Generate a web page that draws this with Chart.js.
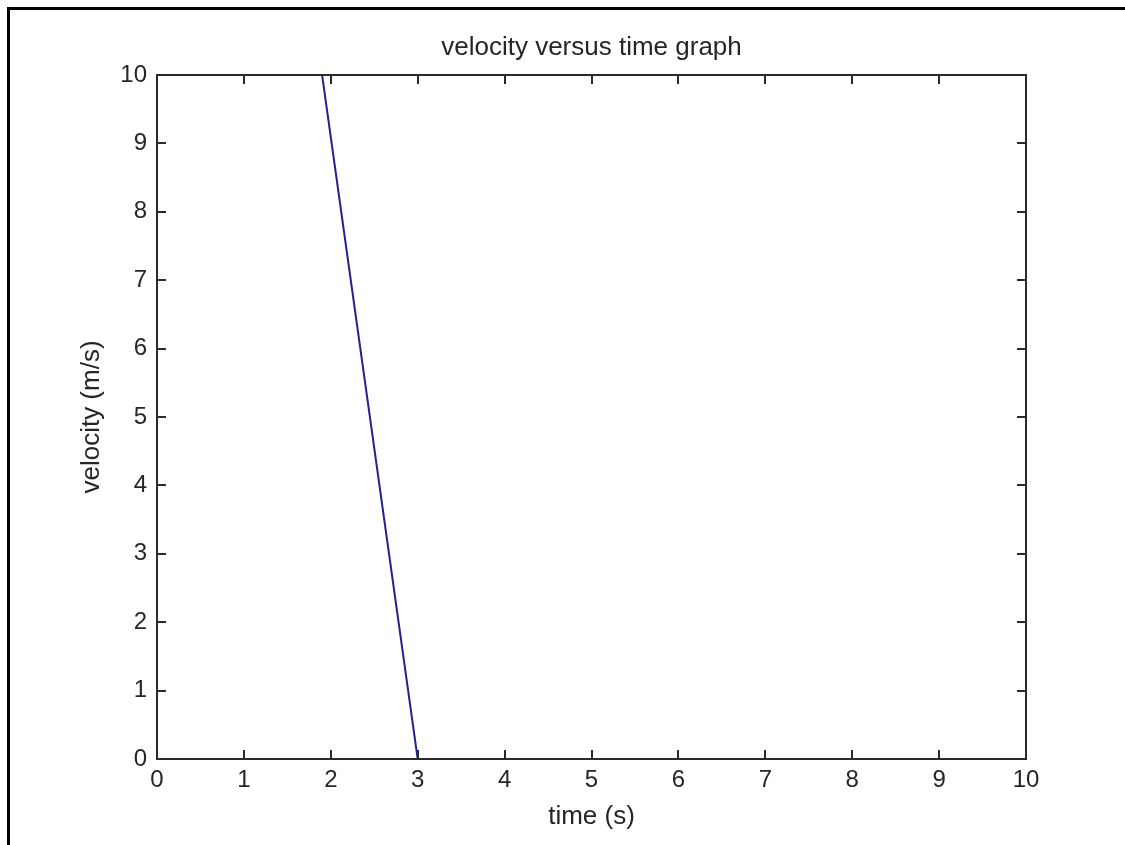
<!DOCTYPE html>
<html>
<head>
<meta charset="utf-8">
<title>velocity versus time graph</title>
<script src="https://cdn.jsdelivr.net/npm/chart.js@4.4.1/dist/chart.umd.min.js"></script>
<style>
    html, body { margin: 0; padding: 0; background: #fff; }
    #wrap { position: relative; width: 1125px; height: 845px; overflow: hidden; }
    #grafica { position: absolute; left: 0; top: 0; }
    /* marco negro arriba e izquierda */
    #marco { position: absolute; left: 7px; top: 7px; right: -10px; bottom: -10px;
             border-top: 3px solid #000; border-left: 3px solid #000; pointer-events: none; }
</style>
</head>
<body>
<div id="wrap">
    <canvas id="grafica" width="1125" height="845"></canvas>
    <div id="marco"></div>
</div>
<script>
// datos
const tiempo = [1.9, 3];          // s
const velocidad = [10, 0];        // m/s
const ejeX = { min: 0, max: 10, paso: 1 };
const ejeY = { min: 0, max: 10, paso: 1 };

const tituloGrafica = 'velocity versus time graph';
const tituloX = 'time (s)';
const tituloY = 'velocity (m/s)';

const colorTexto = '#262626';
const colorEje = '#2a2a2a';
const fuente = "'Liberation Sans', Arial, sans-serif";

// caja del area de trazado + marcas hacia adentro (estilo matlab)
const cajaYMarcas = {
    id: 'cajaYMarcas',
    afterDatasetsDraw(chart) {
        const { ctx, chartArea: a, scales } = chart;
        const largo = 9;
        ctx.save();
        ctx.strokeStyle = colorEje;
        ctx.lineWidth = 2;
        ctx.beginPath();
        scales.x.ticks.forEach(t => {
            const px = Math.round(scales.x.getPixelForValue(t.value));
            ctx.moveTo(px, a.bottom); ctx.lineTo(px, a.bottom - largo);
            ctx.moveTo(px, a.top); ctx.lineTo(px, a.top + largo);
        });
        scales.y.ticks.forEach(t => {
            const py = Math.round(scales.y.getPixelForValue(t.value));
            ctx.moveTo(a.left, py); ctx.lineTo(a.left + largo, py);
            ctx.moveTo(a.right, py); ctx.lineTo(a.right - largo, py);
        });
        ctx.stroke();
        ctx.strokeRect(a.left, a.top, a.right - a.left, a.bottom - a.top);
        ctx.restore();
    }
};

const ctx = document.getElementById('grafica').getContext('2d');

new Chart(ctx, {
    type: 'line',
    data: {
        datasets: [{
            data: tiempo.map((t, i) => ({ x: t, y: velocidad[i] })),
            borderColor: '#23238e',
            borderWidth: 2,
            pointRadius: 0,
            fill: false,
            tension: 0
        }]
    },
    options: {
        responsive: false,
        animation: false,
        layout: { padding: { left: 0, top: 0, right: 99, bottom: 0 } },
        plugins: {
            legend: { display: false },
            tooltip: { enabled: false }
        },
        scales: {
            x: {
                type: 'linear',
                position: 'bottom',
                min: ejeX.min, max: ejeX.max,
                ticks: { stepSize: ejeX.paso, color: colorTexto, padding: 7, maxRotation: 0,
                         font: { family: fuente, size: 24 } },
                grid: { display: false, drawTicks: false },
                border: { display: false },
                title: { display: true, text: tituloX, color: colorTexto,
                         font: { family: fuente, size: 26 }, padding: { top: 0, bottom: 13 } },
                afterFit(s) { s.height = 86; }
            },
            // eje superior solo para el titulo, centrado sobre el area
            arriba: {
                type: 'linear',
                position: 'top',
                min: ejeX.min, max: ejeX.max,
                ticks: { display: false },
                grid: { display: false, drawTicks: false },
                border: { display: false },
                title: { display: true, text: tituloGrafica, color: colorTexto,
                         font: { family: fuente, size: 26 }, padding: { top: 32, bottom: 0 } },
                afterFit(s) { s.height = 75; }
            },
            y: {
                type: 'linear',
                position: 'left',
                min: ejeY.min, max: ejeY.max,
                ticks: { stepSize: ejeY.paso, color: colorTexto, padding: 10,
                         font: { family: fuente, size: 24 } },
                grid: { display: false, drawTicks: false },
                border: { display: false },
                title: { display: true, text: tituloY, color: colorTexto,
                         font: { family: fuente, size: 26 }, padding: { top: 76, bottom: 0 } },
                afterFit(s) { s.width = 157; }
            }
        }
    },
    plugins: [cajaYMarcas]
});
</script>
</body>
</html>
